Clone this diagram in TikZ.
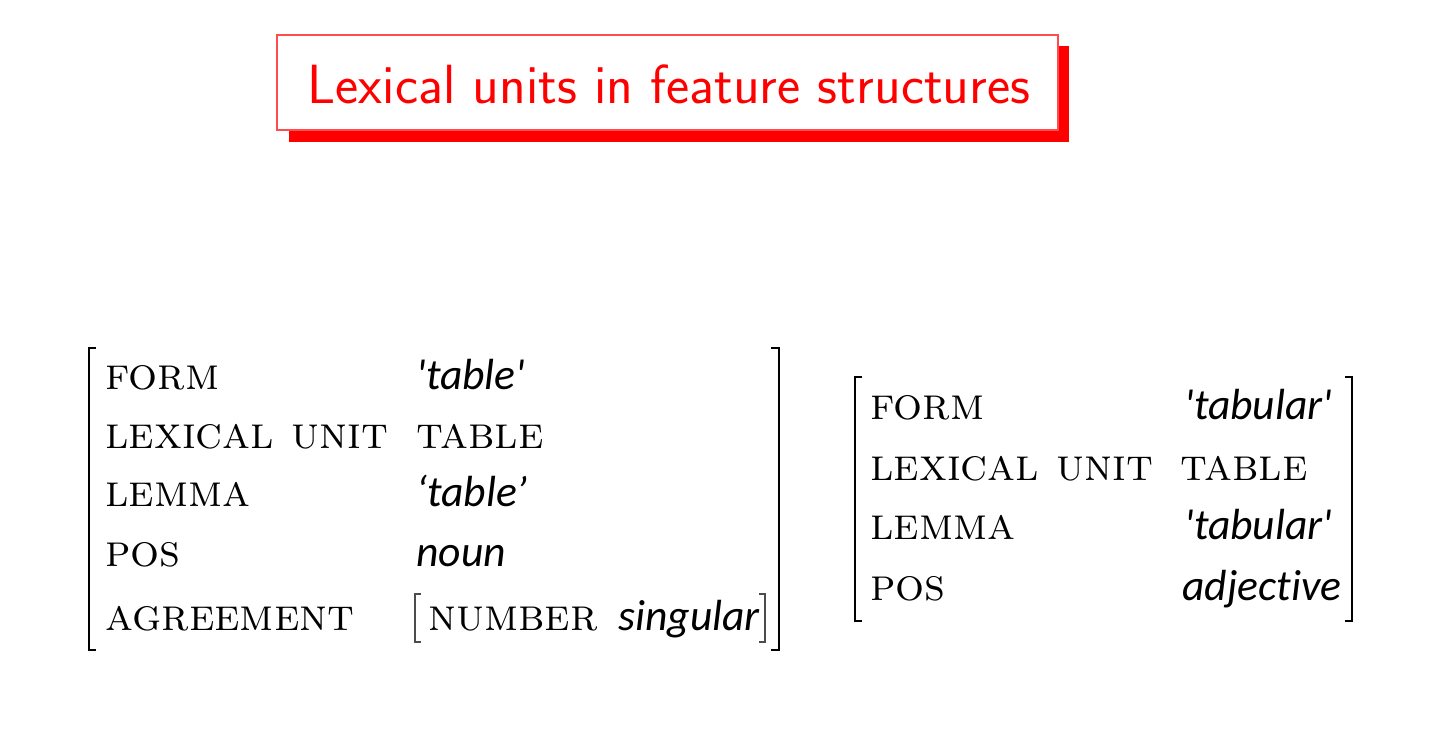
\documentclass[tikz,border=0pt]{standalone}
\usepackage{fontspec}
\newfontfamily\valfont[RawFeature={-liga}]{Carlito}
\definecolor{titlered}{RGB}{255,0,0}
\begin{document}
\begin{tikzpicture}[x=0.5pt,y=-0.5pt,
  lab/.style={anchor=base west,inner sep=0pt,font=\fontsize{22.8}{26}\selectfont\scshape},
  val/.style={anchor=base west,inner sep=0pt,font=\fontsize{21.8}{26}\selectfont\valfont\itshape},
  brk/.style={line width=1pt,line cap=butt,line join=miter},
  ibrk/.style={line width=0.7pt,draw=black!70}]
\useasboundingbox (0,0) rectangle (1432,734);
% title box
\fill[titlered] (289,46) rectangle (1069,142);
\filldraw[fill=white,draw=titlered!70,line width=0.6pt] (277,35) rectangle (1058,130);
\node[anchor=base,inner sep=0pt,text=titlered,font=\fontsize{27.6}{32}\selectfont\sffamily] (title) at (669,103) {Lexical units in feature structures};
% left structure
\node[lab] (l1) at (105,389) {form};
\node[lab] (l2) at (105,448) {lexical unit};
\node[lab] (l3) at (105,506) {lemma};
\node[lab] (l4) at (105,566) {pos};
\node[lab] (l5) at (105,630) {agreement};
\node[val] (v1) at (416,389) {'table'};
\node[lab] (v2) at (416,448) {table};
\node[val] (v3) at (416,506) {‘table’};
\node[val] (v4) at (416,566) {noun};
\node[lab] (v5) at (428,630) {number};
\node[val] (v6) at (618,630) {singular};
\draw[brk] (96,348) -- (89,348) -- (89,650) -- (96,650);
\draw[brk] (771,348) -- (779,348) -- (779,650) -- (771,650);
\draw[ibrk] (421,594) -- (415,594) -- (415,642) -- (421,642);
\draw[ibrk] (759,594) -- (765,594) -- (765,642) -- (759,642);
% right structure
\node[lab] (r1) at (870,419) {form};
\node[lab] (r2) at (870,480) {lexical unit};
\node[lab] (r3) at (870,539) {lemma};
\node[lab] (r4) at (870,600) {pos};
\node[val] (w1) at (1184,419) {'tabular'};
\node[lab] (w2) at (1180,480) {table};
\node[val] (w3) at (1184,539) {'tabular'};
\node[val] (w4) at (1182,600) {adjective};
\draw[brk] (862,377) -- (855,377) -- (855,621) -- (862,621);
\draw[brk] (1345,377) -- (1352,377) -- (1352,621) -- (1345,621);
\end{tikzpicture}
\end{document}
